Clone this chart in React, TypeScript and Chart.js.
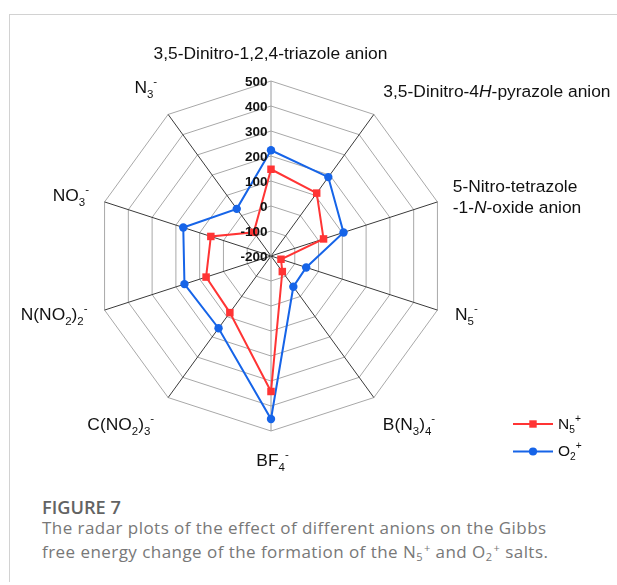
import React, { useEffect, useRef } from "react";
import { Chart, registerables } from "chart.js";

Chart.register(...registerables);

// ---------- data ----------
const CATEGORIES: string[] = [
  "3,5-Dinitro-1,2,4-triazole anion",
  "3,5-Dinitro-4*H*-pyrazole anion",
  "5-Nitro-tetrazole\n-1-*N*-oxide anion",
  "N_{5}^{-}",
  "B(N_{3})_{4}^{-}",
  "BF_{4}^{-}",
  "C(NO_{2})_{3}^{-}",
  "N(NO_{2})_{2}^{-}",
  "NO_{3}^{-}",
  "N_{3}^{-}",
];
const N5_VALUES: number[] = [147, 111, 21, -158, -123, 342, 80, 73, 53, -83];
const O2_VALUES: number[] = [223, 190, 105, -52, -48, 452, 157, 164, 169, 33];
const SERIES_NAMES: string[] = ["N_{5}^{+}", "O_{2}^{+}"];
const SCALE_MIN = -200;
const SCALE_MAX = 500;
const SCALE_STEP = 100;

// ---------- styles ----------
const RED = "rgb(255,52,52)";
const BLUE = "rgb(22,100,232)";
const FONT = '"Liberation Sans", Arial, sans-serif';
const LABEL_SIZE = 17.4;
const LABEL_LINE = 21;
// [dx, dy, align] relative to each axis' outer vertex
const LABEL_PLACEMENT: [number, number, string][] = [
  [-0.5, -28, "center"],
  [9.5, -23.5, "left"],
  [15.3, -5.4, "left"],
  [17.6, 3.5, "left"],
  [9, 26, "left"],
  [1.5, 28.5, "center"],
  [-14, 26, "right"],
  [-17, 3.5, "right"],
  [-15.6, -7, "right"],
  [-11, -27.5, "right"],
];

type Seg = { t: string; k: string };

function parseRich(s: string): Seg[][] {
  const lines: Seg[][] = [];
  let cur: Seg[] = [];
  let italic = false;
  let buf = "";
  let i = 0;
  const flush = () => {
    if (buf) {
      cur.push({ t: buf, k: italic ? "i" : "n" });
      buf = "";
    }
  };
  while (i < s.length) {
    const c = s[i];
    if ((c === "_" || c === "^") && s[i + 1] === "{") {
      flush();
      const end = s.indexOf("}", i);
      cur.push({ t: s.slice(i + 2, end), k: c === "_" ? "sub" : "sup" });
      i = end + 1;
      continue;
    }
    if (c === "*") {
      flush();
      italic = !italic;
      i++;
      continue;
    }
    if (c === "\n") {
      flush();
      lines.push(cur);
      cur = [];
      i++;
      continue;
    }
    buf += c;
    i++;
  }
  flush();
  lines.push(cur);
  return lines;
}

function segFont(s: Seg, size: number) {
  const small = s.k === "sub" || s.k === "sup";
  return `${s.k === "i" ? "italic " : ""}${small ? size * 0.66 : size}px ${FONT}`;
}

function drawRich(
  ctx: CanvasRenderingContext2D,
  text: string,
  x: number,
  cy: number,
  align: string,
  size: number,
  lineH: number,
  color: string
) {
  const lines = parseRich(text);
  ctx.save();
  ctx.fillStyle = color;
  ctx.textBaseline = "alphabetic";
  ctx.textAlign = "left";
  lines.forEach((segs, li) => {
    const lineCy = cy + (li - (lines.length - 1) / 2) * lineH;
    const base = lineCy + (size * 0.716) / 2;
    let w = 0;
    segs.forEach((s) => {
      ctx.font = segFont(s, size);
      w += ctx.measureText(s.t).width;
    });
    let sx = align === "left" ? x : align === "right" ? x - w : x - w / 2;
    segs.forEach((s) => {
      ctx.font = segFont(s, size);
      const off = s.k === "sub" ? size * 0.28 : s.k === "sup" ? -size * 0.45 : 0;
      ctx.fillText(s.t, sx, base + off);
      sx += ctx.measureText(s.t).width;
    });
  });
  ctx.restore();
}

const overlayPlugin = {
  id: "overlay",
  afterDraw(chart: any) {
    const ctx: CanvasRenderingContext2D = chart.ctx;
    const scale = chart.scales.r;
    // axis labels
    CATEGORIES.forEach((label, i) => {
      const p = scale.getPointPosition(i, scale.drawingArea);
      const [dx, dy, align] = LABEL_PLACEMENT[i];
      drawRich(ctx, label, p.x + dx, p.y + dy, align, LABEL_SIZE, LABEL_LINE, "#111");
    });
    // tick labels
    ctx.save();
    ctx.font = `bold 13.5px ${FONT}`;
    ctx.fillStyle = "#111";
    ctx.textAlign = "right";
    ctx.textBaseline = "middle";
    scale.ticks.forEach((t: any) => {
      const d = scale.getDistanceFromCenterForValue(t.value);
      ctx.fillText(String(t.value), scale.xCenter - 3.5, scale.yCenter - d + 1);
    });
    ctx.restore();
    // legend
    const lx = 513;
    const ly = [424, 451.5];
    chart.data.datasets.forEach((ds: any, i: number) => {
      const y = ly[i];
      ctx.save();
      ctx.strokeStyle = ds.borderColor;
      ctx.lineWidth = 1.8;
      ctx.beginPath();
      ctx.moveTo(lx, y);
      ctx.lineTo(lx + 40, y);
      ctx.stroke();
      ctx.fillStyle = ds.backgroundColor;
      if (ds.pointStyle === "rect") {
        ctx.fillRect(lx + 20 - 3.7, y - 3.7, 7.4, 7.4);
      } else {
        ctx.beginPath();
        ctx.arc(lx + 20, y, 4.1, 0, Math.PI * 2);
        ctx.fill();
      }
      ctx.restore();
      drawRich(ctx, SERIES_NAMES[i], lx + 45, y - 1, "left", 15.5, 18, "#111");
    });
  },
};

export default function App() {
  const ref = useRef<HTMLCanvasElement | null>(null);
  useEffect(() => {
    if (!ref.current) return;
    const chart = new Chart(ref.current, {
      type: "radar",
      data: {
        labels: CATEGORIES,
        datasets: [
          {
            label: "N5+",
            data: N5_VALUES,
            borderColor: RED,
            backgroundColor: RED,
            borderWidth: 2,
            pointStyle: "rect",
            pointRadius: 5.3,
            pointBorderWidth: 0,
            fill: false,
            tension: 0,
          },
          {
            label: "O2+",
            data: O2_VALUES,
            borderColor: BLUE,
            backgroundColor: BLUE,
            borderWidth: 2,
            pointStyle: "circle",
            pointRadius: 4.2,
            pointBorderWidth: 0,
            fill: false,
            tension: 0,
          },
        ],
      } as any,
      options: {
        responsive: false,
        animation: false,
        devicePixelRatio: 1,
        layout: { padding: { left: 96, right: 171, top: 81, bottom: 49 } },
        plugins: { legend: { display: false }, tooltip: { enabled: false } },
        scales: {
          r: {
            min: SCALE_MIN,
            max: SCALE_MAX,
            ticks: { stepSize: SCALE_STEP, display: false },
            pointLabels: { display: false },
            grid: { color: "#a8a8a8", lineWidth: 1, circular: false },
            angleLines: {
              color: (c: any) => (c.index === 0 || c.index === 5 ? "#9a9a9a" : "#3a3a3a"),
              lineWidth: 1,
            },
          },
        },
      } as any,
      plugins: [overlayPlugin],
    });
    return () => chart.destroy();
  }, []);

  const sub = (t: string) => (
    <span style={{ fontSize: "0.65em", position: "relative", top: "0.3em" }}>{t}</span>
  );
  const sup = (t: string) => (
    <span style={{ fontSize: "0.65em", position: "relative", top: "-0.55em", marginLeft: 1 }}>{t}</span>
  );

  return (
    <div>
      <div
        style={{
          position: "absolute",
          left: 9,
          top: 14,
          right: 0,
          height: 567,
          borderTop: "1px solid #d2d2d2",
          borderLeft: "1px solid #d2d2d2",
        }}
      />
      <canvas
        ref={ref}
        width={617}
        height={480}
        style={{ position: "absolute", left: 0, top: 0, width: 617, height: 480 }}
      />
      <div
        style={{
          position: "absolute",
          left: 42,
          top: 495,
          font: '600 18.2px "Open Sans", sans-serif',
          lineHeight: "24px",
          color: "#636363",
          whiteSpace: "nowrap",
        }}
      >
        FIGURE 7
      </div>
      <div
        style={{
          position: "absolute",
          left: 42,
          top: 516,
          font: '400 17px "Open Sans", sans-serif',
          letterSpacing: "0.45px",
          lineHeight: "24px",
          color: "#787878",
          whiteSpace: "nowrap",
        }}
      >
        The radar plots of the effect of different anions on the Gibbs
        <br />
        free energy change of the formation of the N{sub("5")}
        {sup("+")} and O{sub("2")}
        {sup("+")} salts.
      </div>
    </div>
  );
}
